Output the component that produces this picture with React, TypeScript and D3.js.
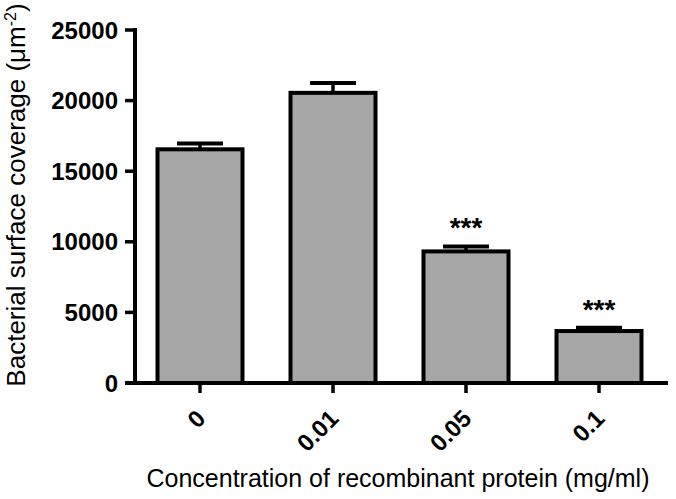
import React from "react";
import * as d3 from "d3";

const categories = ["0", "0.01", "0.05", "0.1"];
const means = [16550, 20550, 9320, 3680];
const errors = [420, 700, 350, 230];
const significance = ["", "", "***", "***"];
const yTicks = [0, 5000, 10000, 15000, 20000, 25000];

const W = 676;
const H = 499;
const axisX = 135;
const baseY = 383;
const topY = 30;
const rightX = 668;
const barW = 85;

export default function App() {
  const y = d3.scaleLinear().domain([0, 25000]).range([baseY, topY]);
  const x = d3.scalePoint().domain(categories).range([200, 599]);
  const font = "Liberation Sans, Arial, Helvetica, sans-serif";
  return (
    <svg width={W} height={H} style={{ position: "absolute", left: 0, top: 0, background: "#fff" }} fontFamily={font}>
      {categories.map((c, i) => {
        const cx = x(c)!;
        const top = y(means[i]);
        const errTop = y(means[i] + errors[i]);
        return (
          <g key={c}>
            <line x1={cx} x2={cx} y1={top} y2={errTop} stroke="#000" strokeWidth={3.5} />
            <line x1={cx - 23} x2={cx + 23} y1={errTop} y2={errTop} stroke="#000" strokeWidth={4} />
            <rect x={cx - barW / 2} y={top} width={barW} height={baseY - top} fill="#a6a6a6" stroke="#000" strokeWidth={4} />
            {significance[i] && (
              <text x={cx} y={errTop - 9} textAnchor="middle" fontSize={28} fontWeight="bold">
                {significance[i]}
              </text>
            )}
            <line x1={cx} x2={cx} y1={baseY} y2={baseY + 10} stroke="#000" strokeWidth={3.5} />
            <text
              transform={`translate(${cx + 7},${baseY + 37}) rotate(-45)`}
              textAnchor="end"
              fontSize={24}
              fontWeight="bold"
            >
              {c}
            </text>
          </g>
        );
      })}
      <line x1={axisX} x2={axisX} y1={topY - 2} y2={baseY + 2} stroke="#000" strokeWidth={4} />
      <line x1={125} x2={rightX} y1={baseY} y2={baseY} stroke="#000" strokeWidth={4} />
      {yTicks.map((t) => (
        <g key={t}>
          <line x1={125} x2={axisX} y1={y(t)} y2={y(t)} stroke="#000" strokeWidth={3.5} />
          <text x={118} y={y(t)} textAnchor="end" dominantBaseline="central" fontSize={24} fontWeight="bold">
            {t}
          </text>
        </g>
      ))}
      <text x={398} y={487} textAnchor="middle" fontSize={25}>
        Concentration of recombinant protein (mg/ml)
      </text>
      <text transform={`translate(25,195) rotate(-90)`} textAnchor="middle" fontSize={26}>
        Bacterial surface coverage (μm
        <tspan dy={-9} fontSize={16}>-2</tspan>
        <tspan dy={9}>)</tspan>
      </text>
    </svg>
  );
}
